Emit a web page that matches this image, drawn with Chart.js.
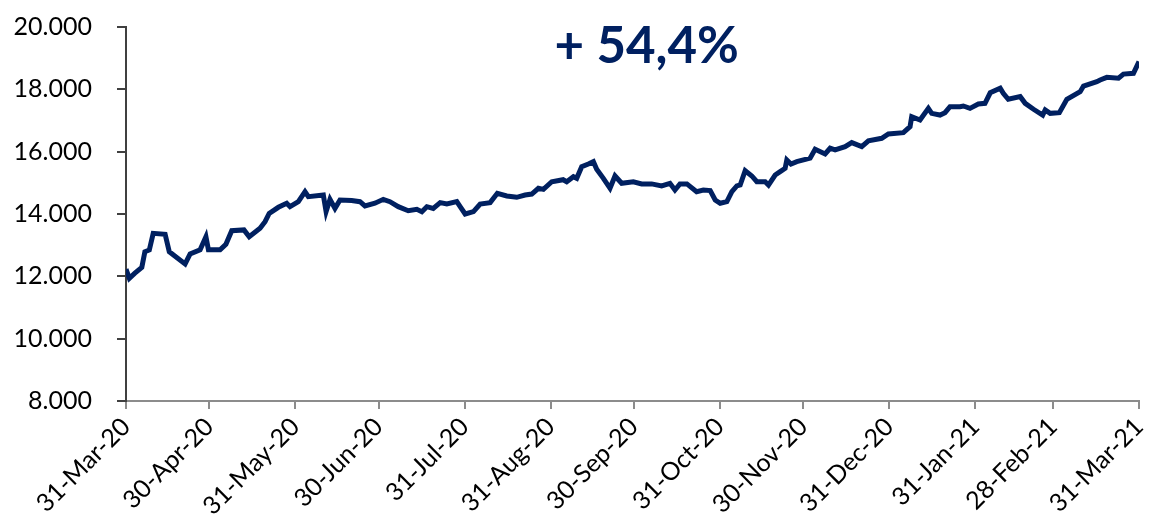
<!DOCTYPE html>
<html>
<head>
<meta charset="utf-8">
<script src="https://cdn.jsdelivr.net/npm/chart.js@4/dist/chart.umd.min.js"></script>
<style>
  html, body { margin: 0; padding: 0; background: #fff; }
  #wrap { width: 1151px; height: 527px; }
</style>
</head>
<body>
<div id="wrap"><canvas id="chart"></canvas></div>
<script>
  // giorni dal 31-Mar-20 e valore
  var days = [0, 1.2, 3.2, 5.7, 6.8, 8.4, 9.8, 14.1, 15.6, 21.3, 23.1, 26.7, 28.8, 29.7, 33.9, 36.0, 38.1, 42.5, 44.4, 48.3,
    50.1, 51.6, 54.9, 57.9, 59.1, 62.1, 64.5, 65.7, 71.1, 72.1, 73.5, 75.3, 77.1, 81.3, 84.3, 86.1, 89.7, 92.7, 95.1, 98.1,
    101.7, 104.8, 106.6, 108.4, 110.7, 113.2, 115.6, 119.2, 120.4, 122.2, 125.2, 127.6, 131.2, 133.8, 137.2, 140.8, 143.8, 146.2, 148.6, 150.4,
    153.4, 157.5, 158.8, 161.2, 162.4, 164.2, 166.6, 168.4, 169.6, 172.0, 174.4, 176.2, 178.6, 182.8, 185.8, 189.4, 193.0, 196.0, 197.8, 199.6,
    202.1, 205.6, 208.0, 210.5, 212.3, 214.1, 216.5, 218.3, 220.1, 221.3, 223.1, 225.5, 227.3, 230.3, 231.5, 233.9, 235.7, 237.5, 238.1, 239.6,
    241.7, 246.5, 248.3, 251.9, 253.7, 255.5, 259.1, 261.5, 265.1, 267.5, 272.3, 274.7, 280.1, 282.5, 283.1, 286.1, 289.1, 290.3, 293.3, 295.1,
    296.9, 300.5, 301.7, 304.1, 307.1, 309.5, 311.4, 315.0, 316.1, 317.9, 322.2, 324.0, 327.0, 330.3, 331.2, 333.0, 336.3, 339.0, 343.8, 345.0,
    349.8, 351.0, 353.4, 357.6, 359.4, 363.0, 365];
  var values = [12230, 11935, 12100, 12290, 12790, 12845, 13380, 13350, 12790, 12400, 12720, 12850, 13270, 12850, 12850, 13030, 13465, 13490, 13270, 13540,
    13755, 14020, 14215, 14345, 14235, 14395, 14715, 14555, 14610, 14075, 14470, 14180, 14450, 14430, 14395, 14260, 14345, 14470, 14395, 14235,
    14105, 14150, 14075, 14235, 14180, 14365, 14320, 14395, 14235, 14000, 14075, 14320, 14365, 14665, 14580, 14535, 14610, 14640, 14825, 14790,
    15035, 15100, 15035, 15195, 15145, 15515, 15605, 15680, 15435, 15145, 14825, 15220, 14985, 15035, 14965, 14965, 14900, 14985, 14770, 14965,
    14965, 14715, 14770, 14750, 14450, 14345, 14395, 14715, 14900, 14930, 15390, 15220, 15035, 15035, 14930, 15250, 15360, 15465, 15735, 15605,
    15680, 15790, 16075, 15925, 16110, 16055, 16160, 16290, 16160, 16350, 16430, 16570, 16610, 16800, 17120, 17015, 17390, 17230, 17175, 17250,
    17445, 17445, 17465, 17390, 17530, 17550, 17890, 18035, 17875, 17680, 17765, 17550, 17360, 17175, 17340, 17230, 17250, 17680, 17925, 18105,
    18245, 18300, 18385, 18355, 18490, 18515, 18890];

  var tickDays = [0, 30, 61, 91, 122, 153, 183, 214, 244, 275, 306, 334, 365];
  var tickLabels = ['31-Mar-20', '30-Apr-20', '31-May-20', '30-Jun-20', '31-Jul-20', '31-Aug-20', '30-Sep-20',
    '31-Oct-20', '30-Nov-20', '31-Dec-20', '31-Jan-21', '28-Feb-21', '31-Mar-21'];
  var yTicks = [8000, 10000, 12000, 14000, 16000, 18000, 20000];
  var headline = '+ 54,4%';

  var NAVY = '#002060';
  var FONT = 'Lato, "Open Sans", sans-serif';

  function fmtThousands(v) {
    var s = String(Math.round(v));
    return s.replace(/\B(?=(\d{3})+(?!\d))/g, '.');
  }

  var points = days.map(function(d, i) { return { x: d, y: values[i] }; });

  var headlinePlugin = {
    id: 'headline',
    afterDraw: function(c) {
      var a = c.chartArea;
      var ctx = c.ctx;
      ctx.save();
      ctx.fillStyle = NAVY;
      ctx.font = 'bold 51px ' + FONT;
      ctx.textAlign = 'center';
      ctx.textBaseline = 'middle';
      ctx.fillText(headline, a.left + (a.right - a.left) * 0.514, a.top + 20);
      ctx.restore();
    }
  };

  new Chart(document.getElementById('chart'), {
    type: 'line',
    data: {
      datasets: [{
        data: points,
        borderColor: NAVY,
        borderWidth: 5,
        pointRadius: 0,
        tension: 0,
        fill: false
      }]
    },
    options: {
      responsive: true,
      maintainAspectRatio: false,
      animation: false,
      layout: { padding: { top: 27, right: 12, left: 0, bottom: 0 } },
      plugins: {
        legend: { display: false },
        tooltip: { enabled: false }
      },
      scales: {
        x: {
          type: 'linear',
          min: 0,
          max: 365,
          afterBuildTicks: function(s) {
            s.ticks = tickDays.map(function(d) { return { value: d }; });
          },
          afterFit: function(s) {
            s.height = 126;
            s.paddingLeft = 0;
            s.paddingRight = 0;
          },
          grid: { display: true, drawOnChartArea: false, drawTicks: true, tickLength: 8, color: '#8c8c8c', lineWidth: 2 },
          border: { display: true, color: '#8c8c8c', width: 2 },
          ticks: {
            autoSkip: false,
            maxRotation: 45,
            minRotation: 45,
            padding: 3,
            color: '#000',
            font: { family: FONT, size: 25 },
            callback: function(v) {
              var i = tickDays.indexOf(v);
              return i >= 0 ? tickLabels[i] : '';
            }
          }
        },
        y: {
          min: 8000,
          max: 20000,
          afterBuildTicks: function(s) {
            s.ticks = yTicks.map(function(v) { return { value: v }; });
          },
          afterFit: function(s) {
            s.width = 126;
            s.paddingTop = 0;
            s.paddingBottom = 0;
          },
          grid: { display: true, drawOnChartArea: false, drawTicks: true, tickLength: 9, color: '#404040', lineWidth: 2 },
          border: { display: true, color: '#404040', width: 2 },
          ticks: {
            padding: 25,
            color: '#000',
            font: { family: FONT, size: 25 },
            callback: function(v) { return fmtThousands(v); }
          }
        }
      }
    },
    plugins: [headlinePlugin]
  });
</script>
</body>
</html>
